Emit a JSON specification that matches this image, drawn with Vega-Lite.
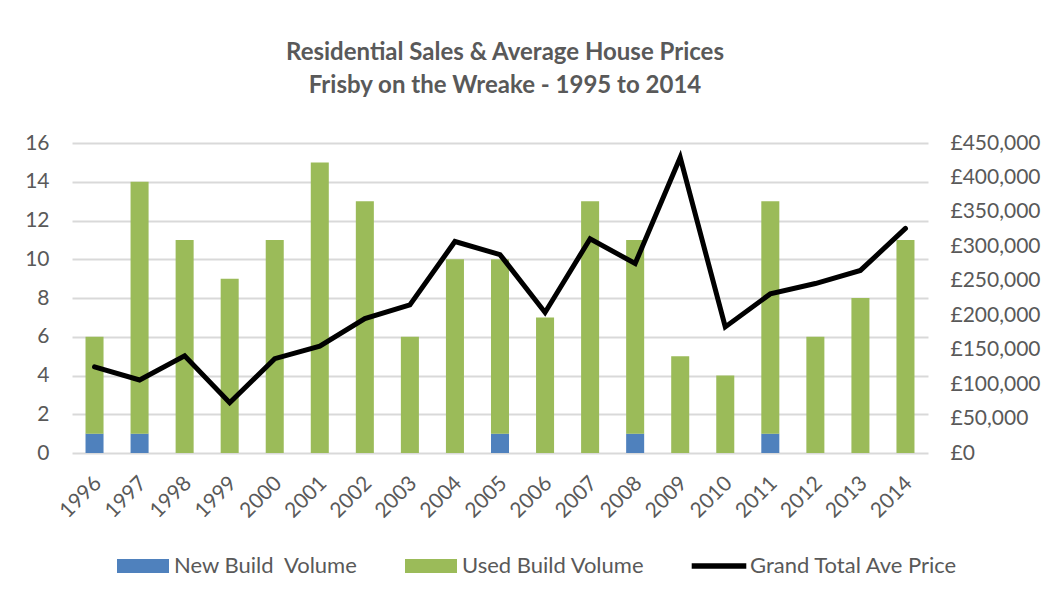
{
  "$schema": "https://vega.github.io/schema/vega-lite/v6.json",
  "width": 856,
  "height": 310,
  "autosize": {"type": "none"},
  "padding": {"left": 72, "top": 143, "right": 121, "bottom": 153},
  "background": "white",
  "title": {
    "text": ["Residential Sales & Average House Prices", "Frisby on the Wreake - 1995 to 2014"],
    "anchor": "middle",
    "font": "Lato",
    "fontSize": 24,
    "fontWeight": "bold",
    "color": "#595959",
    "lineHeight": 33,
    "offset": 34,
    "dx": 5
  },
  "datasets": {
    "volumes": [
      {"year": "1996", "type": "New Build\u00a0 Volume", "volume": 1},
      {"year": "1996", "type": "Used Build Volume", "volume": 5},
      {"year": "1997", "type": "New Build\u00a0 Volume", "volume": 1},
      {"year": "1997", "type": "Used Build Volume", "volume": 13},
      {"year": "1998", "type": "Used Build Volume", "volume": 11},
      {"year": "1999", "type": "Used Build Volume", "volume": 9},
      {"year": "2000", "type": "Used Build Volume", "volume": 11},
      {"year": "2001", "type": "Used Build Volume", "volume": 15},
      {"year": "2002", "type": "Used Build Volume", "volume": 13},
      {"year": "2003", "type": "Used Build Volume", "volume": 6},
      {"year": "2004", "type": "Used Build Volume", "volume": 10},
      {"year": "2005", "type": "New Build\u00a0 Volume", "volume": 1},
      {"year": "2005", "type": "Used Build Volume", "volume": 9},
      {"year": "2006", "type": "Used Build Volume", "volume": 7},
      {"year": "2007", "type": "Used Build Volume", "volume": 13},
      {"year": "2008", "type": "New Build\u00a0 Volume", "volume": 1},
      {"year": "2008", "type": "Used Build Volume", "volume": 10},
      {"year": "2009", "type": "Used Build Volume", "volume": 5},
      {"year": "2010", "type": "Used Build Volume", "volume": 4},
      {"year": "2011", "type": "New Build\u00a0 Volume", "volume": 1},
      {"year": "2011", "type": "Used Build Volume", "volume": 12},
      {"year": "2012", "type": "Used Build Volume", "volume": 6},
      {"year": "2013", "type": "Used Build Volume", "volume": 8},
      {"year": "2014", "type": "Used Build Volume", "volume": 11}
    ],
    "prices": [
      {"year": "1996", "price": 125000},
      {"year": "1997", "price": 106000},
      {"year": "1998", "price": 141000},
      {"year": "1999", "price": 73000},
      {"year": "2000", "price": 137000},
      {"year": "2001", "price": 155000},
      {"year": "2002", "price": 195000},
      {"year": "2003", "price": 215000},
      {"year": "2004", "price": 307000},
      {"year": "2005", "price": 288000},
      {"year": "2006", "price": 204000},
      {"year": "2007", "price": 311000},
      {"year": "2008", "price": 275000},
      {"year": "2009", "price": 429000},
      {"year": "2010", "price": 183000},
      {"year": "2011", "price": 231000},
      {"year": "2012", "price": 246000},
      {"year": "2013", "price": 265000},
      {"year": "2014", "price": 326000}
    ]
  },
  "encoding": {
    "x": {
      "field": "year",
      "type": "ordinal",
      "scale": {"paddingInner": 0.6, "paddingOuter": 0.3},
      "axis": {
        "title": null,
        "labelAngle": -45,
        "domain": false,
        "ticks": false,
        "labelPadding": 19,
        "labelFontSize": 21,
        "labelOffset": -4
      }
    }
  },
  "layer": [
    {
      "data": {"name": "volumes"},
      "mark": {"type": "bar"},
      "encoding": {
        "y": {
          "field": "volume",
          "type": "quantitative",
          "scale": {"domain": [0, 16], "nice": false},
          "axis": {
            "title": null,
            "orient": "left",
            "values": [0, 2, 4, 6, 8, 10, 12, 14, 16],
            "grid": true,
            "gridColor": "#d9d9d9",
            "gridWidth": 2,
            "domain": false,
            "ticks": false,
            "labelPadding": 23
          }
        },
        "order": {"field": "type", "sort": "ascending"},
        "color": {
          "field": "type",
          "type": "nominal",
          "scale": {
            "domain": ["New Build\u00a0 Volume", "Used Build Volume", "Grand Total Ave Price"],
            "range": ["#4F81BD", "#9BBB59", "#000000"]
          },
          "legend": {
            "title": null,
            "orient": "none",
            "direction": "horizontal",
            "legendX": 45,
            "legendY": 397,
            "padding": 0,
            "symbolType": "M-1,-0.27H1V0.27H-1Z",
            "symbolSize": 2704,
            "labelOffset": 5,
            "columnPadding": 46,
            "labelFont": "Lato",
            "labelFontSize": 22,
            "labelColor": "#595959",
            "labelLimit": 400,
            "encode": {
              "symbols": {
                "update": {
                  "shape": {"signal": "datum.value === 'Grand Total Ave Price' ? 'M-1.05,-0.11H1.05V0.11H-1.05Z' : 'M-1,-0.27H1V0.27H-1Z'"},
                  "fill": {"scale": "color", "field": "value"},
                  "strokeWidth": {"value": 0},
                  "opacity": {"value": 1}
                }
              }
            }
          }
        }
      }
    },
    {
      "data": {"name": "prices"},
      "mark": {"type": "line", "strokeWidth": 5, "strokeJoin": "miter", "strokeCap": "round"},
      "encoding": {
        "y": {
          "field": "price",
          "type": "quantitative",
          "scale": {"domain": [0, 450000], "nice": false},
          "axis": {
            "title": null,
            "orient": "right",
            "values": [0, 50000, 100000, 150000, 200000, 250000, 300000, 350000, 400000, 450000],
            "labelExpr": "'£' + format(datum.value, ',')",
            "grid": false,
            "domain": false,
            "ticks": false,
            "labelPadding": 22
          }
        },
        "color": {"datum": "Grand Total Ave Price"}
      }
    }
  ],
  "resolve": {"scale": {"y": "independent"}},
  "config": {
    "view": {"stroke": null},
    "axis": {
      "labelFont": "Lato",
      "labelFontSize": 21,
      "labelColor": "#595959"
    }
  }
}
